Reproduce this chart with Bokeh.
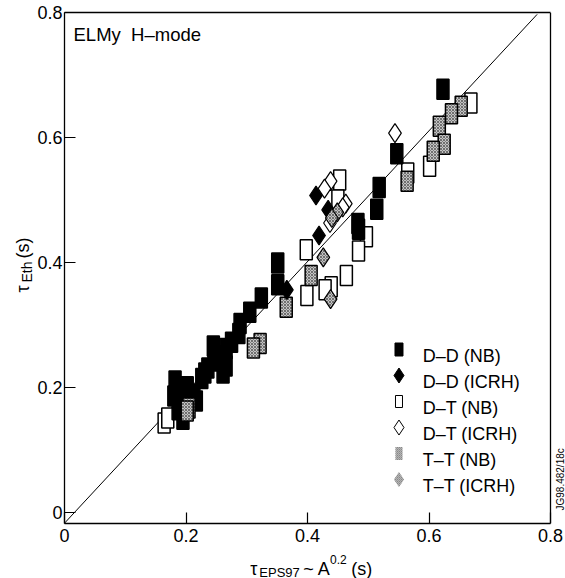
from bokeh.plotting import figure
from bokeh.models import Range1d, Label, FixedTicker, LinearAxis, Span
from bokeh.layouts import row, column
from bokeh.embed import file_html
from bokeh.resources import INLINE

# ---------------- data ----------------
dd_nb_x = [0.623, 0.547, 0.518, 0.514, 0.483, 0.484, 0.351, 0.351, 0.324, 0.305, 0.289, 0.287,
           0.266, 0.245, 0.246, 0.266, 0.261, 0.231, 0.226, 0.213, 0.202, 0.180, 0.187, 0.182,
           0.195, 0.217, 0.192, 0.236, 0.255, 0.275]
dd_nb_y = [0.677, 0.574, 0.520, 0.485, 0.462, 0.453, 0.399, 0.364, 0.343, 0.320, 0.302, 0.286,
           0.262, 0.266, 0.242, 0.234, 0.223, 0.223, 0.214, 0.189, 0.201, 0.186, 0.164, 0.210,
           0.149, 0.178, 0.196, 0.231, 0.250, 0.272]

dd_icrh_x = [0.366, 0.414, 0.434, 0.419]
dd_icrh_y = [0.356, 0.507, 0.484, 0.443]

dt_nb_x = [0.669, 0.601, 0.565, 0.453, 0.450, 0.497, 0.484, 0.398, 0.464, 0.439, 0.429, 0.399,
           0.164, 0.170]
dt_nb_y = [0.655, 0.554, 0.543, 0.532, 0.500, 0.441, 0.418, 0.420, 0.379, 0.361, 0.356, 0.347,
           0.143, 0.151]

dt_icrh_x = [0.544, 0.438, 0.428, 0.463, 0.458, 0.437]
dt_icrh_y = [0.607, 0.530, 0.518, 0.494, 0.488, 0.463]

tt_nb_x = [0.653, 0.637, 0.617, 0.625, 0.607, 0.564, 0.406, 0.365, 0.322, 0.311, 0.205, 0.202]
tt_nb_y = [0.650, 0.638, 0.618, 0.589, 0.578, 0.530, 0.379, 0.328, 0.270, 0.263, 0.167, 0.162]

tt_icrh_x = [0.449, 0.440, 0.426, 0.438]
tt_icrh_y = [0.480, 0.471, 0.408, 0.341]

diag_x = [0.0, 0.778]
diag_y = [-0.0176, 0.797]

tick_vals = [0.0, 0.2, 0.4, 0.6, 0.8]
tick_labels = ["0", "0.2", "0.4", "0.6", "0.8"]

legend_labels = ["D\u2013D (NB)", "D\u2013D (ICRH)", "D\u2013T (NB)", "D\u2013T (ICRH)",
                 "T\u2013T (NB)", "T\u2013T (ICRH)"]

# ---------------- layout geometry ----------------
FONT = "Liberation Sans"
W, H = 565, 578
YW = 34          # strip on the left holding the y title
XH = 28          # strip below holding the x title
MW, MH = W - YW, H - XH
BL, BR, BT, BB = 64 - YW, 0, 12, MH - 523
PX_PER_X = 607.5
PX_PER_Y = 624.6
x_end = 0.8 + (W - 550) / PX_PER_X
y_start = -(523 - 511.7) / PX_PER_Y

p = figure(width=MW, height=MH, output_backend="svg", toolbar_location=None,
           x_range=Range1d(0, x_end), y_range=Range1d(y_start, 0.8),
           min_border_left=BL, min_border_right=BR, min_border_top=BT, min_border_bottom=BB)
p.grid.visible = False
p.outline_line_color = None
p.background_fill_color = "white"
p.border_fill_color = "white"

overrides = {v: l for v, l in zip(tick_vals, tick_labels)}
for ax in (p.xaxis[0], p.yaxis[0]):
    ax.ticker = FixedTicker(ticks=tick_vals)
    ax.major_label_overrides = overrides
    ax.major_tick_in = 11
    ax.major_tick_out = 0
    ax.minor_tick_in = 0
    ax.minor_tick_out = 0
    ax.axis_line_color = "black"
    ax.axis_line_width = 1.3
    ax.major_tick_line_width = 1.2
    ax.major_label_text_font = FONT
    ax.major_label_text_font_size = "18px"
    ax.major_label_text_color = "black"
p.xaxis.bounds = (0, 0.8)
p.xaxis.major_label_standoff = 5
p.yaxis.major_label_standoff = 2

top = LinearAxis(bounds=(0, 0.8), ticker=FixedTicker(ticks=[]), major_tick_in=0,
                 major_tick_out=0, minor_tick_in=0, minor_tick_out=0, major_label_standoff=0,
                 axis_line_color="black", axis_line_width=1.3)
p.add_layout(top, "above")
p.add_layout(Span(location=0.8, dimension="height", line_color="black", line_width=1.3))

p.line(diag_x, diag_y, line_color="black", line_width=1)

RW, RH = 12, 20
hatch = dict(fill_color="#c4c4c4", hatch_pattern="diagonal_cross", hatch_color="#5a5a5a",
             hatch_scale=3, hatch_weight=0.8)

p.rect(dt_nb_x, dt_nb_y, width=RW, height=RH, width_units="screen", height_units="screen",
       fill_color="white", line_color="black", line_width=1.5)
p.rect(dd_nb_x, dd_nb_y, width=RW, height=RH, width_units="screen", height_units="screen",
       fill_color="black", line_color="black", line_width=1.5)
p.rect(tt_nb_x, tt_nb_y, width=RW, height=RH, width_units="screen", height_units="screen",
       line_color="black", line_width=1.5, **hatch)
p.scatter(dd_icrh_x, dd_icrh_y, marker="diamond", size=19, fill_color="black",
          line_color="black", line_width=1.2)
p.scatter(dt_icrh_x, dt_icrh_y, marker="diamond", size=19, fill_color="white",
          line_color="black", line_width=1.2)
p.scatter(tt_icrh_x, tt_icrh_y, marker="diamond", size=19, line_color="black",
          line_width=1.2, **hatch)

# ---------------- legend (drawn by hand) ----------------
leg_x = 0.5506
leg_tx = 0.5896
leg_y = [0.8 - (337 + 26 * i) / PX_PER_Y for i in range(6)]
lab_dy = -6.5 / PX_PER_Y

p.rect([leg_x], [leg_y[0]], width=8, height=13, width_units="screen", height_units="screen",
       fill_color="black", line_color="black", line_width=1)
p.scatter([leg_x], [leg_y[1]], marker="diamond", size=15, fill_color="black",
          line_color="black", line_width=1)
p.rect([leg_x], [leg_y[2]], width=7, height=12, width_units="screen", height_units="screen",
       fill_color="white", line_color="black", line_width=1)
p.scatter([leg_x], [leg_y[3]], marker="diamond", size=15, fill_color="white",
          line_color="black", line_width=1)
p.rect([leg_x], [leg_y[4]], width=7, height=13, width_units="screen", height_units="screen",
       line_color=None, fill_color="#b4b4b4", hatch_pattern="diagonal_cross",
       hatch_color="#808080", hatch_scale=2, hatch_weight=0.6)
p.scatter([leg_x], [leg_y[5]], marker="diamond", size=15, line_color=None,
          fill_color="#b4b4b4", hatch_pattern="diagonal_cross", hatch_color="#808080",
          hatch_scale=2, hatch_weight=0.6)

for lab, ly in zip(legend_labels, leg_y):
    p.add_layout(Label(x=leg_tx, y=ly + lab_dy, text=lab, text_font=FONT,
                       text_font_size="18px", text_color="black",
                       text_baseline="alphabetic", text_align="left"))

ANG = 1.5707963
FL, FB = 64, 523  # canvas position of frame left / bottom


def main_label(text, cx, cy, size, angle=0.0):
    p.add_layout(Label(x=cx - FL, y=FB - cy, x_units="screen", y_units="screen",
                       text=text, text_font=FONT, text_font_size=size, angle=angle,
                       text_color="black", text_baseline="alphabetic", text_align="left"))


main_label("ELMy\u00a0\u00a0H\u2013mode", 73, 33.5, "18.5px")
main_label("JG98.482/18c", 559.5, 510, "10px", angle=ANG)

# ---------------- strip figures for the axis titles ----------------
def strip(w, h):
    f = figure(width=w, height=h, output_backend="svg", toolbar_location=None,
               x_range=Range1d(0, w), y_range=Range1d(0, h), min_border=0,
               x_axis_location=None, y_axis_location=None)
    f.grid.visible = False
    f.outline_line_color = None
    f.background_fill_color = "white"
    f.border_fill_color = "white"
    return f


yfig = strip(YW, H)
xfig = strip(MW, XH)


def ylab(text, cx, cy, size):
    yfig.add_layout(Label(x=cx, y=H - cy, text=text, text_font=FONT, text_font_size=size,
                          angle=ANG, text_color="black", text_baseline="alphabetic",
                          text_align="left"))


def xlab(text, cx, cy, size):
    xfig.add_layout(Label(x=cx - YW, y=H - cy, text=text, text_font=FONT,
                          text_font_size=size, text_color="black",
                          text_baseline="alphabetic", text_align="left"))


# y title: tau_Eth (s)
ylab("\u03c4", 22, 292, "18px")
ylab("Eth", 26.5, 282, "14px")
ylab("(s)", 22, 258, "18px")

# x title: tau_EPS97 ~ A^0.2 (s)
xlab("\u03c4", 231, 568, "18px")
xlab("EPS97", 240.5, 571.5, "13px")
xlab("~ A", 287, 568, "18px")
xlab("0.2", 315.5, 558.5, "12px")
xlab("(s)", 338, 568, "18px")

layout = row(yfig, column(p, xfig))
open("out.html", "w").write(file_html(layout, INLINE))
